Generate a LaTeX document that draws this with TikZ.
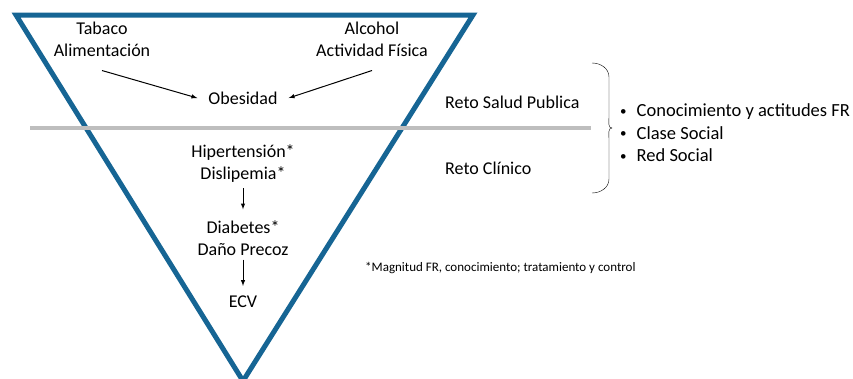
\documentclass[tikz,border=0pt]{standalone}
\usepackage{fontspec}
\setmainfont{Carlito}
\usetikzlibrary{positioning, arrows}
\definecolor{triblue}{RGB}{22,101,148}
\definecolor{cutgray}{RGB}{190,190,190}
\tikzstyle{txt} = [align=center, inner sep=0, font=\fontsize{18}{22}\selectfont]
\tikzstyle{side} = [txt, align=left, anchor=west]
\tikzstyle{note} = [inner sep=0, anchor=west, font=\fontsize{13}{15}\selectfont]
\tikzstyle{arrow} = [->,>=latex, line width=1pt]
\newcommand{\dotitem}{{\fontsize{13}{13}\selectfont\raisebox{1.5pt}{\textbullet}}\hspace{10pt}}

\begin{document}
\begin{tikzpicture}[x=1pt, y=-1pt]
    \useasboundingbox (0,0) rectangle (853,378);
    % inverted triangle and cut line
    \draw[triblue, line width=5pt, line join=miter] (16,15) -- (473,15) -- (243,381) -- cycle;
    \draw[cutgray, line width=4pt] (30,128) -- (591,128);

    \node (tab) [txt] at (102,39) {Tabaco\\Alimentación};
    \node (alc) [txt] at (372,39) {Alcohol\\Actividad Física};
    \node (obes) [txt, inner xsep=11pt] at (243,98) {Obesidad};
    \node (hip) [txt] at (243,164) {Hipertensión*\\Dislipemia*};
    \node (dia) [txt, below of=hip, node distance=74pt] {Diabetes*\\Daño Precoz};
    \node (ecv) [txt, below of=dia, node distance=64pt] {ECV};

    \draw[arrow] ([yshift=-14pt]tab.south) -- (obes.west);
    \draw[arrow] ([yshift=-14pt]alc.south) -- (obes.east);
    \draw[arrow, shorten <=5pt, shorten >=11pt] (hip.south) -- (dia.north);
    \draw[arrow, shorten <=4pt, shorten >=10pt] (dia.south) -- (ecv.north);

    \node (rsp) [side] at (445,102) {Reto Salud Publica};
    \node (rcl) [side] at (445,168) {Reto Clínico};

    % brace
    \coordinate (bt) at (592,63);
    \draw[thin] (bt) to[out=0,in=90] ++(17,14) -- ++(0,40) to[out=270,in=180] ++(3,11)
        to[out=180,in=90] ++(-3,11) -- ++(0,40) to[out=270,in=0] ++(-17,14);

    \node (fac) [side, font=\fontsize{18.5}{22.5}\selectfont] at (620,133) {\dotitem Conocimiento y actitudes FR\\
        \dotitem Clase Social\\
        \dotitem Red Social};

    \node (nota) [note] at (365,268) {*Magnitud FR, conocimiento; tratamiento y control};
\end{tikzpicture}
\end{document}
